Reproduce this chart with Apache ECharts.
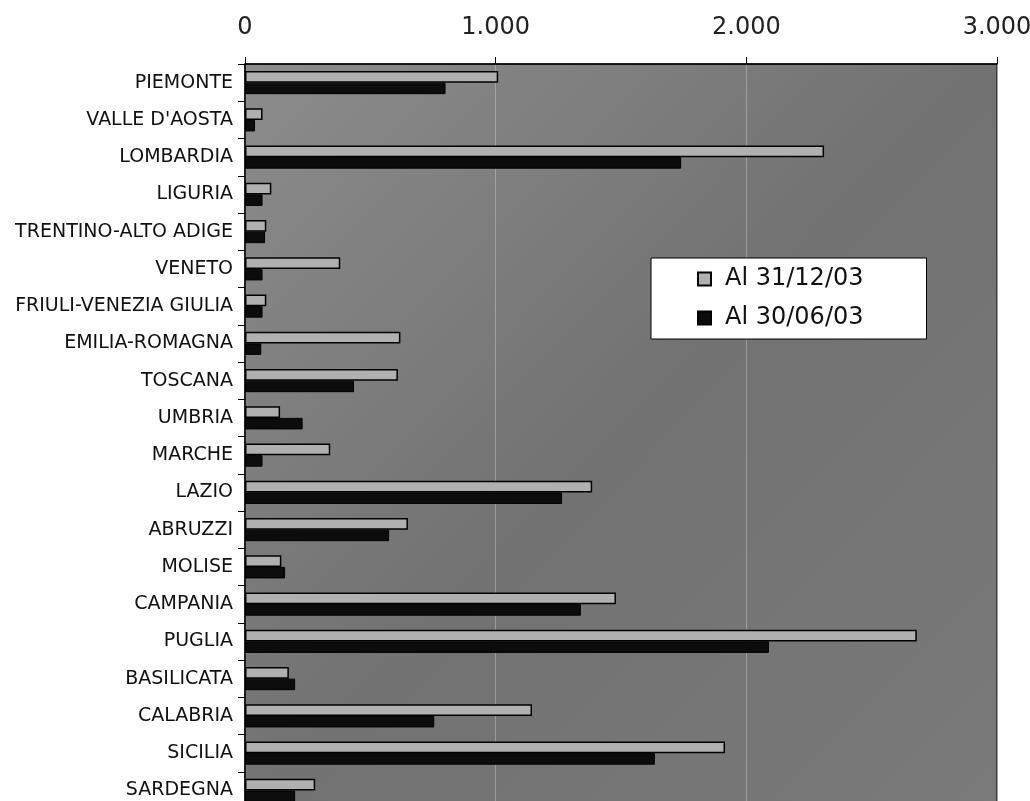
<!DOCTYPE html>
<html>
<head>
<meta charset="utf-8">
<script src="https://cdn.jsdelivr.net/npm/echarts@6/dist/echarts.min.js"></script>
<style>
html,body{margin:0;padding:0;background:#fff;}
#chart{width:1030px;height:801px;}
</style>
</head>
<body>
<div id="chart"></div>
<script>
const categories = ["PIEMONTE","VALLE D'AOSTA","LOMBARDIA","LIGURIA","TRENTINO-ALTO ADIGE","VENETO","FRIULI-VENEZIA GIULIA","EMILIA-ROMAGNA","TOSCANA","UMBRIA","MARCHE","LAZIO","ABRUZZI","MOLISE","CAMPANIA","PUGLIA","BASILICATA","CALABRIA","SICILIA","SARDEGNA"];
const dec03 = [1010, 70, 2310, 105, 85, 380, 85, 620, 610, 140, 340, 1385, 650, 145, 1480, 2680, 175, 1145, 1915, 280];
const jun03 = [800, 40, 1740, 70, 80, 70, 70, 65, 435, 230, 70, 1265, 575, 160, 1340, 2090, 200, 755, 1635, 200];
const xTicks = [0, 1000, 2000, 3000];
const seriesNames = ["Al 31/12/03", "Al 30/06/03"];

const FONT = 'DejaVu Sans, Liberation Sans, Arial, sans-serif';
const chart = echarts.init(document.getElementById('chart'));
const fmt = v => String(v).replace(/\B(?=(\d{3})+(?!\d))/g, '.');
chart.setOption({
  backgroundColor: '#ffffff',
  animation: false,
  textStyle: { fontFamily: FONT },
  grid: {
    left: 245, right: 33, top: 64, bottom: -8,
    outerBoundsMode: 'none',
    containLabel: false,
    show: true,
    backgroundColor: new echarts.graphic.LinearGradient(0, 0, 1, 1, [
      { offset: 0, color: '#8c8c8c' },
      { offset: 0.5, color: '#727272' },
      { offset: 1, color: '#7a7a7a' }
    ]),
    borderColor: '#000', borderWidth: 1
  },
  legend: {
    data: seriesNames,
    orient: 'vertical',
    left: 651, top: 258,
    padding: [9, 63, 9, 46],
    itemGap: 15,
    itemWidth: 13, itemHeight: 13,
    icon: 'rect',
    backgroundColor: '#ffffff',
    borderColor: '#000', borderWidth: 1,
    textStyle: { fontSize: 24, color: '#111', fontFamily: FONT, padding: [0, 0, 0, 9] }
  },
  xAxis: {
    type: 'value', position: 'top',
    min: xTicks[0], max: xTicks[xTicks.length - 1], interval: 1000,
    axisLine: { show: true, lineStyle: { color: '#000', width: 1.5 } },
    axisTick: { show: true, length: 7, lineStyle: { color: '#000' } },
    axisLabel: { fontSize: 24, color: '#222', margin: 24, formatter: v => fmt(v) },
    splitLine: { show: true, lineStyle: { color: 'rgba(230,230,230,0.35)', width: 1 } }
  },
  yAxis: {
    type: 'category', data: categories, inverse: true,
    axisLine: { show: true, lineStyle: { color: '#000', width: 1.5 } },
    axisTick: { show: true, length: 7, lineStyle: { color: '#000' } },
    axisLabel: { fontSize: 19, color: '#111', margin: 12 }
  },
  series: [
    {
      name: seriesNames[0], type: 'bar', data: dec03,
      barGap: '0%', barCategoryGap: '38%',
      itemStyle: { color: '#b0b0b0', borderColor: '#000', borderWidth: 1.5 }
    },
    {
      name: seriesNames[1], type: 'bar', data: jun03,
      itemStyle: { color: '#0c0c0c', borderColor: '#000', borderWidth: 1 }
    }
  ]
});
</script>
</body>
</html>
